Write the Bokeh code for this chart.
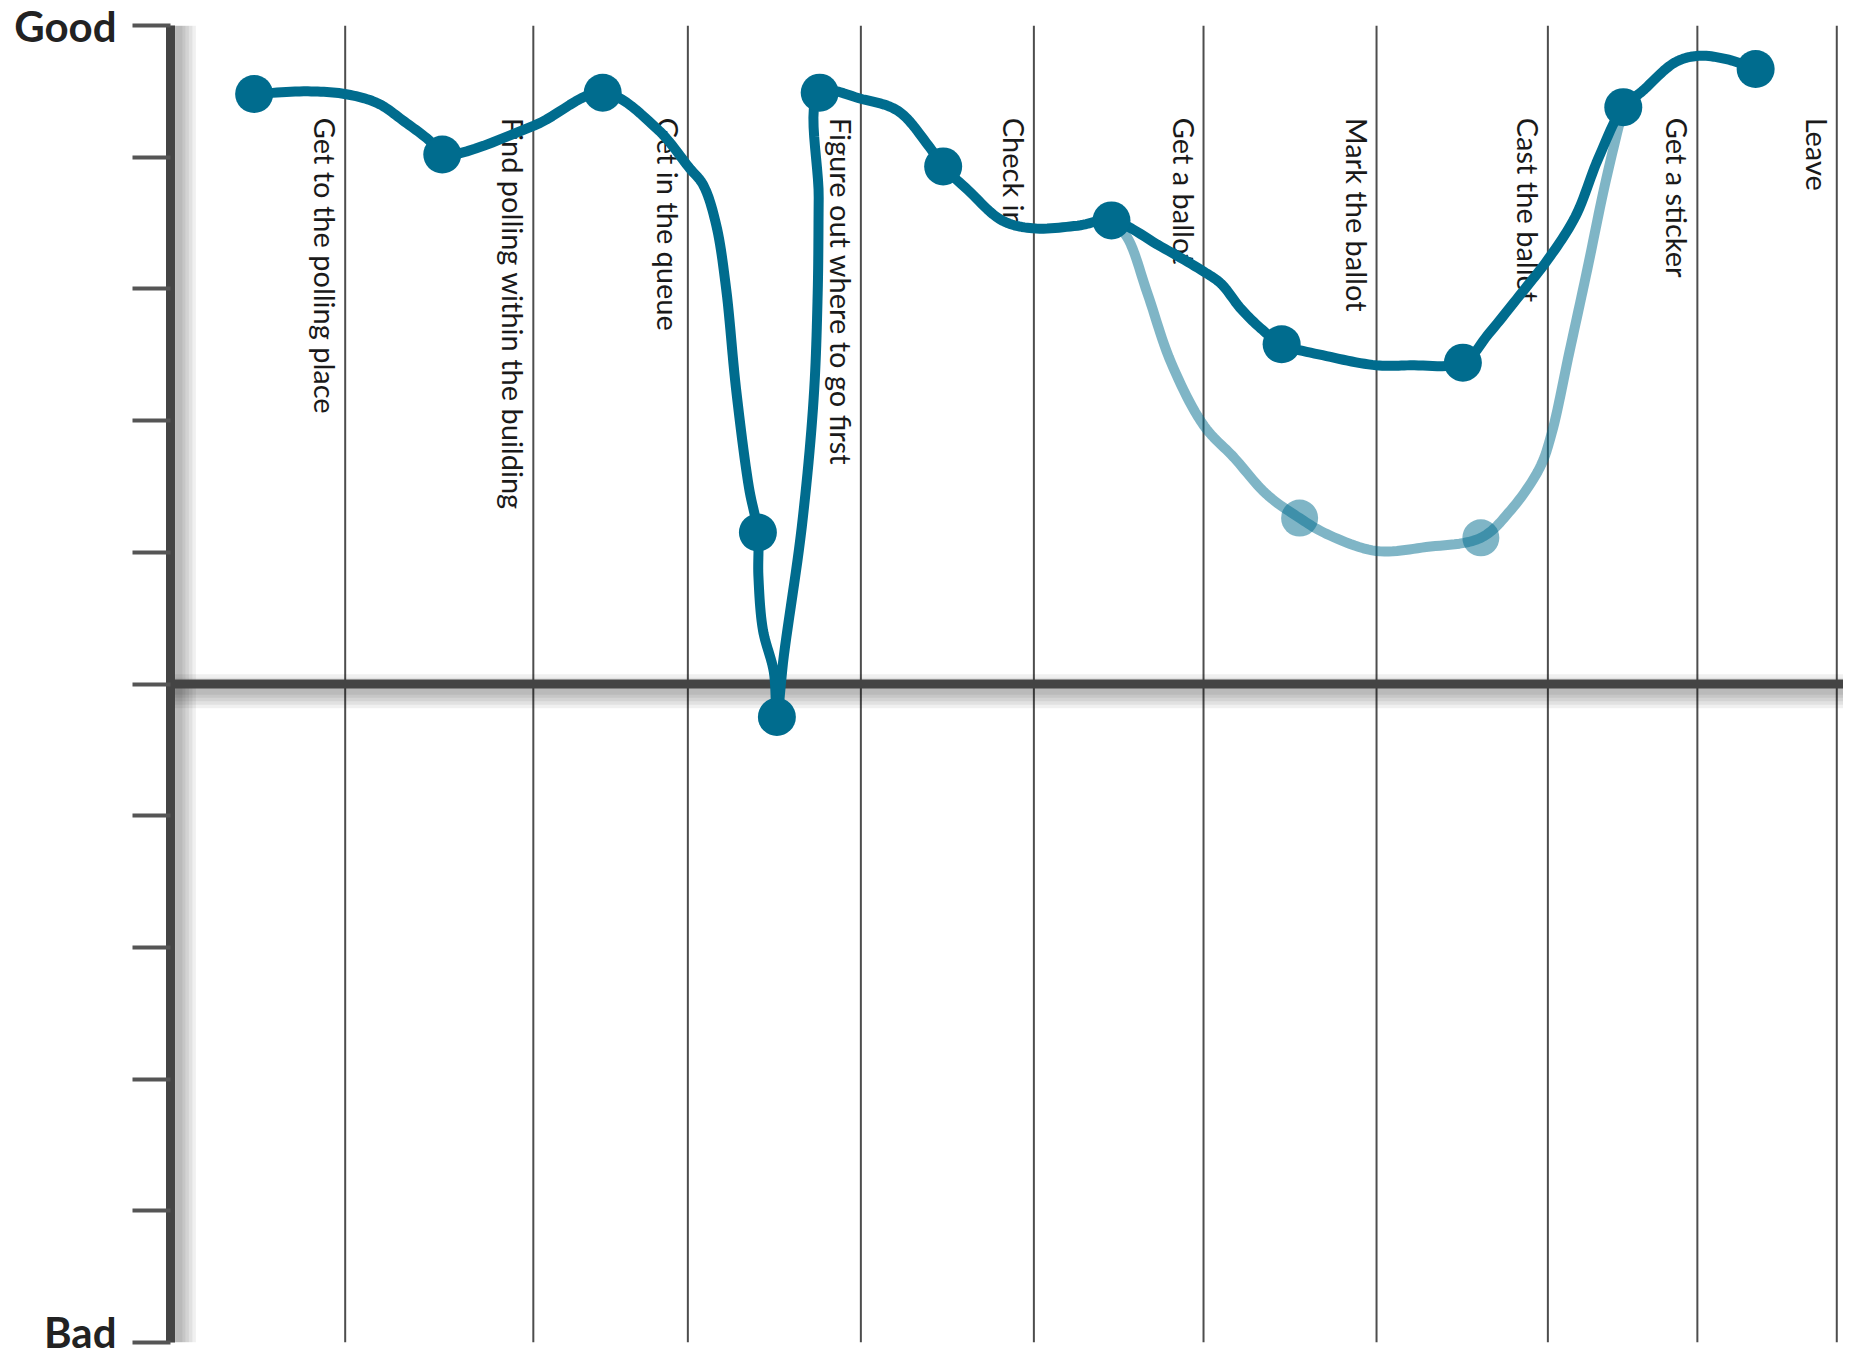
import math
import numpy as np
from bokeh.plotting import figure
from bokeh.models import Range1d, FixedTicker
from bokeh.core.properties import value
from bokeh.embed import file_html
from bokeh.resources import INLINE

# ---------------- data ----------------
steps = ["Get to the polling place", "Find polling within the building", "Get in the queue",
         "Figure out where to go first", "Check in", "Get a ballot", "Mark the ballot",
         "Cast the ballot", "Get a sticker", "Leave"]
step_ends = [10.4, 21.6, 30.8, 41.1, 51.4, 61.5, 71.8, 82.0, 90.9, 99.2]

y_ticks = [-5, -4, -3, -2, -1, 0, 1, 2, 3, 4, 5]
y_tick_labels = {5: "Good", -5: "Bad"}

# experience points
main_x = [4.98, 16.18, 25.73, 34.97, 36.10, 38.65, 46.00, 56.02, 66.15, 76.94, 86.49, 94.37]
main_y = [4.48, 4.02, 4.49, 1.15, -0.25, 4.49, 3.93, 3.52, 2.58, 2.44, 4.38, 4.67]
alt_x = [67.22, 78.01]
alt_y = [1.26, 1.11]

# traced path of the main curve
main_path_x = [4.98, 8.18, 10.37, 12.33, 13.93, 15.47, 16.18, 21.64, 25.73, 28.93, 30.88, 31.71,
               32.48, 33.08, 33.67, 34.44, 34.97, 35.00, 35.27, 35.92, 36.10, 36.51, 37.58, 38.29,
               38.53, 38.59, 38.65, 41.20, 43.33, 45.11, 46.00, 47.48, 49.50, 51.33, 54.00, 56.02,
               58.98, 61.53, 62.54, 63.72, 64.91, 66.15, 68.82, 71.79, 73.80, 76.94, 78.48, 80.44,
               81.98, 83.64, 85.00, 86.49, 87.61, 89.57, 90.99, 92.77, 94.37]
main_path_y = [4.48, 4.50, 4.48, 4.41, 4.27, 4.12, 4.02, 4.24, 4.49, 4.22, 3.92, 3.79,
               3.49, 3.00, 2.24, 1.49, 1.15, 0.82, 0.41, 0.09, -0.25, 0.21, 1.19, 2.17,
               2.97, 3.69, 4.49, 4.44, 4.35, 4.09, 3.93, 3.75, 3.52, 3.46, 3.48, 3.52,
               3.32, 3.13, 3.04, 2.85, 2.70, 2.58, 2.49, 2.42, 2.42, 2.44, 2.66, 2.97,
               3.22, 3.55, 3.99, 4.38, 4.50, 4.72, 4.77, 4.74, 4.67]

# traced path of the alternative curve
alt_path_x = [56.02, 56.96, 58.15, 59.57, 61.53, 63.31, 65.26, 67.22, 68.82, 71.79, 74.75, 78.01,
              79.79, 81.51, 82.22, 83.28, 84.35, 85.36, 86.49]
alt_path_y = [3.52, 3.39, 2.97, 2.44, 1.96, 1.72, 1.44, 1.26, 1.14, 1.01, 1.04, 1.11,
              1.32, 1.64, 1.90, 2.52, 3.15, 3.77, 4.38]

TEAL = "#006c8e"
X_END = 99.6


def smooth(xs, ys, sx=16.87, sy=133.2, n=12):
    P = np.array([[x * sx, y * sy] for x, y in zip(xs, ys)], dtype=float)
    P = np.vstack([2 * P[0] - P[1], P, 2 * P[-1] - P[-2]])
    out = []
    for i in range(1, len(P) - 2):
        p0, p1, p2, p3 = P[i - 1], P[i], P[i + 1], P[i + 2]
        t0 = 0.0
        t1 = t0 + max(np.linalg.norm(p1 - p0), 1e-6) ** 0.5
        t2 = t1 + max(np.linalg.norm(p2 - p1), 1e-6) ** 0.5
        t3 = t2 + max(np.linalg.norm(p3 - p2), 1e-6) ** 0.5
        for t in np.linspace(t1, t2, n, endpoint=False):
            A1 = (t1 - t) / (t1 - t0) * p0 + (t - t0) / (t1 - t0) * p1
            A2 = (t2 - t) / (t2 - t1) * p1 + (t - t1) / (t2 - t1) * p2
            A3 = (t3 - t) / (t3 - t2) * p2 + (t - t2) / (t3 - t2) * p3
            B1 = (t2 - t) / (t2 - t0) * A1 + (t - t0) / (t2 - t0) * A2
            B2 = (t3 - t) / (t3 - t1) * A2 + (t - t1) / (t3 - t1) * A3
            C = (t2 - t) / (t2 - t1) * B1 + (t - t1) / (t2 - t1) * B2
            out.append(C)
    out.append(P[-2])
    out = np.array(out)
    return list(out[:, 0] / sx), list(out[:, 1] / sy)


p = figure(width=1843, height=1356, output_backend="svg", toolbar_location=None,
           x_range=Range1d(0, X_END), y_range=Range1d(-5, 5), x_axis_location=None,
           min_border_left=170, min_border_right=0, min_border_top=25, min_border_bottom=14)
p.outline_line_color = None
p.grid.visible = False
p.background_fill_color = "white"

# step separator lines
p.segment(x0=step_ends, y0=[-5] * len(step_ends), x1=step_ends, y1=[5] * len(step_ends),
          line_color="#4d4d4d", line_width=2)

# soft shadows of the two axes
for w in [34, 27, 20, 13, 7]:
    p.segment(x0=[0], y0=[-0.055], x1=[X_END], y1=[-0.055], line_color="black",
              line_alpha=0.06, line_width=w)
    p.segment(x0=[0.5], y0=[-5], x1=[0.5], y1=[5], line_color="black",
              line_alpha=0.06, line_width=w)

# zero line
p.segment(x0=[0], y0=[0], x1=[X_END], y1=[0], line_color="#444444", line_width=9)

# step labels
p.text(x=step_ends, y=[4.30] * len(step_ends), text=steps, angle=-math.pi / 2,
       text_align="left", text_baseline="top", x_offset=-2,
       text_font=value("Lato"), text_font_size="29px", text_color="#1a1a1a")

# alternative path
ax, ay = smooth(alt_path_x, alt_path_y)
p.line(ax, ay, line_color=TEAL, line_alpha=0.5, line_width=10, line_cap="round", line_join="round")
p.scatter(alt_x, alt_y, size=37, fill_color=TEAL, fill_alpha=0.5, line_color=None)

# main path
mx, my = smooth(main_path_x, main_path_y)
p.line(mx, my, line_color=TEAL, line_width=10, line_cap="round", line_join="round")
p.scatter(main_x, main_y, size=38, fill_color=TEAL, line_color=None)

# y axis
ax_ = p.yaxis[0]
ax_.ticker = FixedTicker(ticks=y_ticks)
ax_.major_label_overrides = {t: y_tick_labels.get(t, "") for t in y_ticks}
ax_.axis_line_width = 9
ax_.axis_line_color = "#444444"
ax_.major_tick_line_color = "#555555"
ax_.major_tick_line_width = 4
ax_.major_tick_out = 38
ax_.major_tick_in = 0
ax_.minor_tick_line_color = None
ax_.major_label_standoff = 16
ax_.major_label_text_font = "Lato"
ax_.major_label_text_font_style = "bold"
ax_.major_label_text_font_size = "42px"
ax_.major_label_text_color = "#222222"

open("out.html", "w").write(file_html(p, INLINE))
